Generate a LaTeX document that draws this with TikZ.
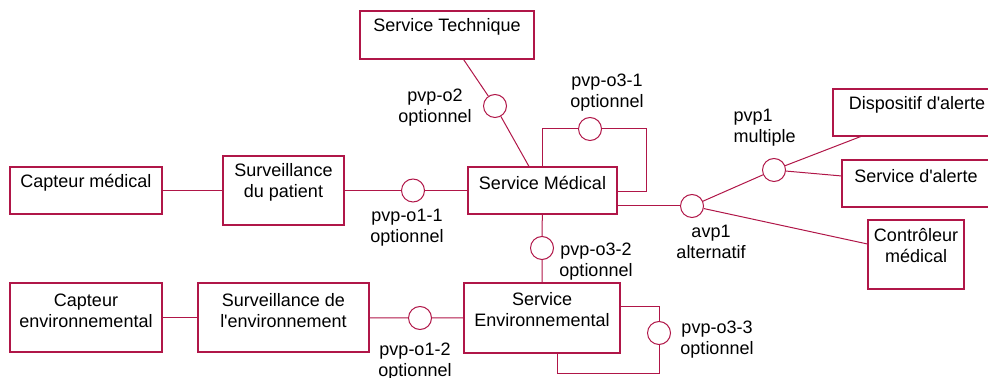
\documentclass[tikz,border=0pt]{standalone}
\usepackage{fontspec}
\setmainfont{Liberation Sans}[Ligatures=TeXOff]
\usetikzlibrary{positioning}
\definecolor{lien}{RGB}{176,22,72}

\begin{document}
\begin{tikzpicture}[x=0.5pt, y=-0.5pt, lien, line width=0.5pt,
		boite/.style args={#1/#2}{draw=lien, line width=0.6pt, minimum width=#1, minimum height=#2, inner sep=0pt},
		rond/.style={circle, draw=lien, minimum size=11.5pt, inner sep=0pt},
		texte/.style={text=black, inner sep=0pt, align=center, font=\fontsize{9}{10.5}\selectfont}]
				\useasboundingbox (0,0) rectangle (988,378);
				\node[boite=87pt/24pt]     (tech)  at (447,35)      {};
				\node[boite=74.5pt/23.5pt] (med)   at (542.5,190.5) {};
				\node[boite=76pt/23.5pt]   (capm)  at (86,190.5)    {};
				\node[boite=60.5pt/34.5pt] (survp) at (283.5,190.5) {};
				\node[boite=76pt/34.5pt]   (cape)  at (86,317.5)    {};
				\node[boite=85.5pt/34.5pt] (surve) at (283.5,317.5) {};
				\node[boite=78pt/35pt]     (env)   at (542,318)     {};
				\node[boite=90pt/23.5pt]   (disp)  at (923,112.5)   {};
				\node[boite=85pt/23.5pt]   (alert) at (927,183.5)   {};
				\node[boite=48pt/34.5pt]   (ctrl)  at (916,254.5)   {};
				\node[texte] (tech-t)  at (447,27)      {Service Technique};
				\node[texte] (med-t)   at (542.5,183)   {Service Médical};
				\node[texte] (capm-t)  at (86,183)      {Capteur médical};
				\node[texte] (survp-t) at (283.5,182.5) {Surveillance\\du patient};
				\node[texte] (cape-t)  at (86,310.5)    {Capteur\\environnemental};
				\node[texte] (surve-t) at (283.5,310.5) {Surveillance de\\l'environnement};
				\node[texte] (env-t)   at (542,309.5)   {Service\\Environnemental};
				\node[texte] (disp-t)  at (917,105)     {Dispositif d'alerte};
				\node[texte] (alert-t) at (916,176)     {Service d'alerte};
				\node[texte] (ctrl-t)  at (916,246)     {Contrôleur\\médical};
				\node[rond] (o2)   at (495,106)   {};
				\node[rond] (o31)  at (590,129)   {};
				\node[rond] (o11)  at (413,190.5) {};
				\node[rond] (o12)  at (420,318)   {};
				\node[rond] (o32)  at (542,248)   {};
				\node[rond] (o33)  at (659,333)   {};
				\node[rond] (avp1) at (692,206)   {};
				\node[rond] (pvp1) at (774,170)   {};
				\node[shape=coordinate] (l31) at (646,192) {};
				\node[shape=coordinate] (l33) at (557,373) {};
				\draw (capm) -- (survp);
				\draw (survp) -- (o11) -- (med);
				\draw (cape) -- (surve);
				\draw (surve) -- (o12) -- (env);
				\draw (tech) -- (o2) -- (med);
				\draw (med) -- (o32) -- (env);
				\draw (med.north) |- (o31) -| (l31) -- (l31 -| med.east);
				\draw ([yshift=5.5pt]env.east) -| (o33) |- (l33) -- (l33 |- env.south);
				\draw (avp1) -- (avp1 -| med.east);
				\draw (avp1) -- (pvp1);
				\draw (avp1) -- (ctrl);
				\draw (pvp1) -- (disp);
				\draw (pvp1) -- (alert);
				\node[texte] (o2-l)   at (435,108) {pvp-o2\\optionnel};
				\node[texte] (o31-l)  at (607,93)  {pvp-o3-1\\optionnel};
				\node[texte] (o11-l)  at (407,228) {pvp-o1-1\\optionnel};
				\node[texte] (o12-l)  at (415,362) {pvp-o1-2\\optionnel};
				\node[texte] (o32-l)  at (596,262) {pvp-o3-2\\optionnel};
				\node[texte] (o33-l)  at (717,340) {pvp-o3-3\\optionnel};
				\node[texte] (avp1-l) at (711,242) {avp1\\alternatif};
				\node[texte, align=left, anchor=west] (pvp1-l) at (733,128) {pvp1\\multiple};
			\end{tikzpicture}
\end{document}
